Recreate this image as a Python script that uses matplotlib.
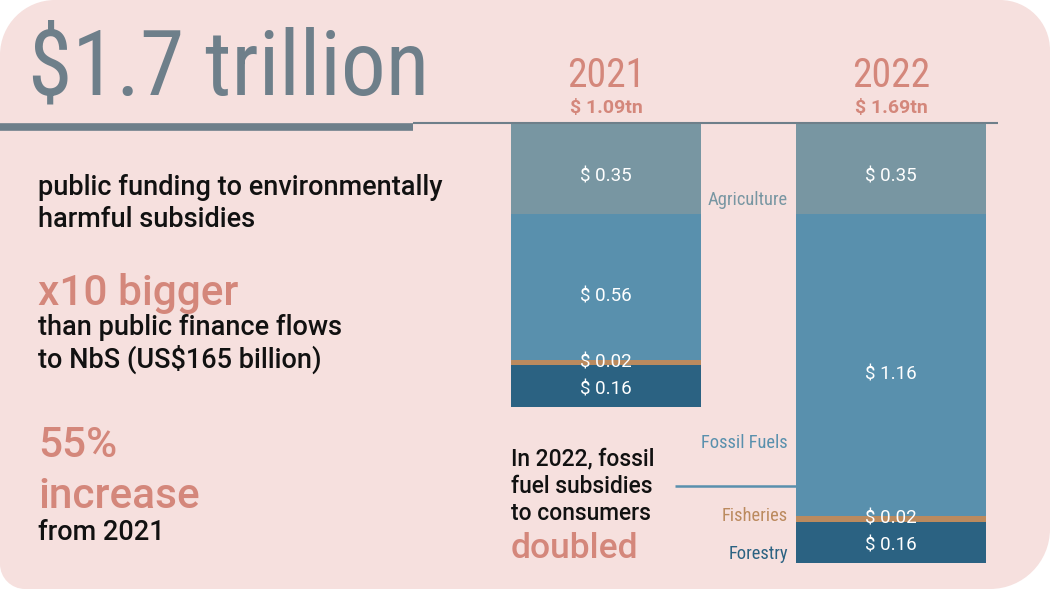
import matplotlib
matplotlib.use('Agg')
import matplotlib.pyplot as plt
from matplotlib import font_manager as fm
from matplotlib.path import Path
from matplotlib.patches import PathPatch
from matplotlib.transforms import offset_copy

# ---------------- data ----------------
years = ['2021', '2022']
year_totals = ['$ 1.09tn', '$ 1.69tn']
categories = ['Agriculture', 'Fossil Fuels', 'Fisheries', 'Forestry']
values_2021 = [0.35, 0.56, 0.02, 0.16]
values_2022 = [0.35, 1.16, 0.02, 0.16]

# ---------------- style ----------------
cat_colors = ['#7896a2', '#5990ad', '#bb8a5e', '#2b6282']
PINK_BG = '#f6e0de'
PINK_TX = '#d4877b'
TITLE_C = '#6e7f8a'


def pick(cands):
    for c in cands:
        try:
            fm.findfont(fm.FontProperties(family=c), fallback_to_default=False)
            return c
        except Exception:
            pass
    return 'DejaVu Sans'


COND = pick(['Liberation Sans Narrow', 'DejaVu Sans Condensed', 'Roboto Condensed', 'Roboto'])
BODY = pick(['Roboto', 'Open Sans', 'DejaVu Sans'])

W, H = 1050, 589
fig = plt.figure(figsize=(W / 100, H / 100), dpi=100)
fig.patch.set_facecolor('white')

# background rounded panel (pixel coordinates, y down)
bg = fig.add_axes([0, 0, 1, 1], zorder=0)
bg.set_xlim(0, W); bg.set_ylim(H, 0); bg.axis('off')


def rounded_path(x0, y0, x1, y1, tl, tr, br, bl):
    k = 0.5523
    v, c = [], []
    v.append((x0 + tl, y0)); c.append(Path.MOVETO)
    v.append((x1 - tr, y0)); c.append(Path.LINETO)
    v += [(x1 - tr + k * tr, y0), (x1, y0 + tr - k * tr), (x1, y0 + tr)]; c += [Path.CURVE4] * 3
    v.append((x1, y1 - br)); c.append(Path.LINETO)
    v += [(x1, y1 - br + k * br), (x1 - br + k * br, y1), (x1 - br, y1)]; c += [Path.CURVE4] * 3
    v.append((x0 + bl, y1)); c.append(Path.LINETO)
    v += [(x0 + bl - k * bl, y1), (x0, y1 - bl + k * bl), (x0, y1 - bl)]; c += [Path.CURVE4] * 3
    v.append((x0, y0 + tl)); c.append(Path.LINETO)
    v += [(x0, y0 + tl - k * tl), (x0 + tl - k * tl, y0), (x0 + tl, y0)]; c += [Path.CURVE4] * 3
    v.append((x0 + tl, y0)); c.append(Path.CLOSEPOLY)
    return Path(v, c)


bg.add_patch(PathPatch(rounded_path(0, 0, W, H, 55, 50, 60, 25), facecolor=PINK_BG, edgecolor='none'))

# ---------------- bars ----------------
L, R, T, B = 440, 1020, 123, 580
PX_PER_CAT = 285.0
PX_PER_TN = 260.5
ax = fig.add_axes([L / W, 1 - B / H, (R - L) / W, (B - T) / H], zorder=1)
ax.set_facecolor('none')
ax.set_xlim(-(606 - L) / PX_PER_CAT, 1 + (R - 891) / PX_PER_CAT)
ax.set_ylim((B - T) / PX_PER_TN, 0)
ax.axis('off')

xpos = [0, 1]
series = [values_2021, values_2022]
bottoms = [0.0, 0.0]
label_offsets = [-8, -9, 0, -3]  # pixel shift (down) for value labels per category
for i, cat in enumerate(categories):
    vals = [series[0][i], series[1][i]]
    ax.bar(xpos, vals, bottom=bottoms, width=190 / PX_PER_CAT, color=cat_colors[i], linewidth=0)
    tr = offset_copy(ax.transData, fig=fig, x=0, y=label_offsets[i], units='dots')
    for j in range(2):
        ax.text(xpos[j], bottoms[j] + vals[j] / 2, f'$ {vals[j]:.2f}', transform=tr,
                ha='center', va='center', color='white', fontsize=13.5, family=BODY)
    bottoms = [bottoms[0] + vals[0], bottoms[1] + vals[1]]

# ---------------- foreground text & lines ----------------
fg = fig.add_axes([0, 0, 1, 1], zorder=2)
fg.set_facecolor('none')
fg.set_xlim(0, W); fg.set_ylim(H, 0); fg.axis('off')

fg.text(28, 95, '$1.7 trillion', family=COND, fontsize=64.5, color=TITLE_C, va='baseline', ha='left')
fg.plot([0, 413], [126.5, 126.5], color=TITLE_C, lw=5.5, solid_capstyle='butt')
fg.plot([413, 998], [123, 123], color=TITLE_C, lw=1.5, solid_capstyle='butt')

for j, (yr, tot) in enumerate(zip(years, year_totals)):
    cx = 606 + j * PX_PER_CAT
    fg.text(cx, 87, yr, family=COND, fontsize=28.5, color=PINK_TX, ha='center', va='baseline')
    fg.text(cx, 113, tot, family=BODY, fontsize=14, fontweight='bold', color=PINK_TX,
            ha='center', va='baseline')

cat_label_y = [200, 443, 516, 554]
for i, cat in enumerate(categories):
    fg.text(788, cat_label_y[i], cat, family=COND, fontsize=13.3, color=cat_colors[i],
            ha='right', va='center')

fg.plot([675, 796], [485.5, 485.5], color=cat_colors[1], lw=1.8, solid_capstyle='butt')

body_kw = dict(family=BODY, fontsize=19.5, fontweight='medium', color='#111111', va='baseline', ha='left')
big_kw = dict(family=BODY, fontsize=30.5, fontweight='medium', color=PINK_TX, va='baseline', ha='left')

fg.text(38, 195, 'public funding to environmentally', **body_kw)
fg.text(38, 227, 'harmful subsidies', **body_kw)
fg.text(38, 305, 'x10 bigger', **big_kw)
fg.text(38, 335, 'than public finance flows', **body_kw)
fg.text(38, 368, 'to NbS (US$165 billion)', **body_kw)
fg.text(38, 457, '55%', **big_kw)
fg.text(38, 508, 'increase', **big_kw)
fg.text(38, 540, 'from 2021', **body_kw)

small_kw = dict(family=BODY, fontsize=16.4, fontweight='medium', color='#111111', va='baseline', ha='left')
fg.text(511, 465, 'In 2022, fossil', **small_kw)
fg.text(511, 493, 'fuel subsidies', **small_kw)
fg.text(511, 520, 'to consumers', **small_kw)
fg.text(511, 558, 'doubled', family=BODY, fontsize=25.5, fontweight='medium', color=PINK_TX,
        va='baseline', ha='left')

fig.savefig('out.png', dpi=100, facecolor=fig.get_facecolor())
